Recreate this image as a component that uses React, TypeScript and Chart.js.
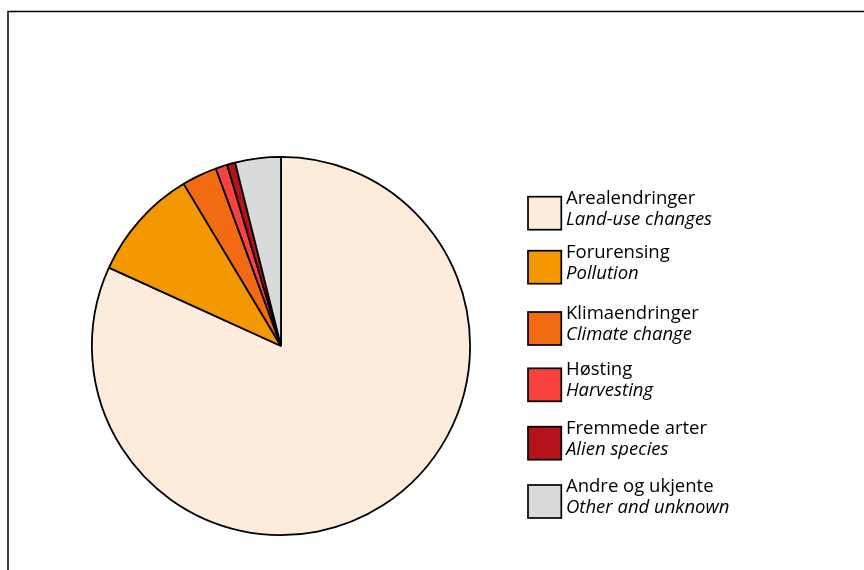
import React, { useEffect, useRef } from "react";
import { Chart, registerables } from "chart.js";

Chart.register(...registerables);

const labelsNo = ["Arealendringer", "Forurensing", "Klimaendringer", "Høsting", "Fremmede arter", "Andre og ukjente"];
const labelsEn = ["Land-use changes", "Pollution", "Climate change", "Harvesting", "Alien species", "Other and unknown"];
const shares = [81.8, 9.6, 3.0, 1.0, 0.7, 3.9];
const colors = ["#FDEBDC", "#F39800", "#F26A12", "#F8423C", "#B5121B", "#D9DADC"];

const FONT = '"Open Sans", "Noto Sans", sans-serif';

const decorPlugin = {
  id: "decor",
  beforeDraw(chart: any) {
    const ctx = chart.ctx;
    ctx.save();
    ctx.fillStyle = "#ffffff";
    ctx.fillRect(0, 0, chart.width, chart.height);
    ctx.strokeStyle = "#000000";
    ctx.lineWidth = 1.5;
    ctx.beginPath();
    ctx.moveTo(8, chart.height);
    ctx.lineTo(8, 11.5);
    ctx.lineTo(chart.width, 11.5);
    ctx.stroke();
    ctx.restore();
  },
  afterDraw(chart: any) {
    const ctx = chart.ctx;
    ctx.save();
    const rowTops = [196.7, 250.7, 312, 368.3, 426.7, 485];
    const x0 = 528;
    const boxW = 33.3;
    const boxH = 33;
    for (let i = 0; i < labelsNo.length; i++) {
      const y = rowTops[i];
      ctx.fillStyle = colors[i];
      ctx.fillRect(x0, y, boxW, boxH);
      ctx.strokeStyle = "#000000";
      ctx.lineWidth = 1.7;
      ctx.strokeRect(x0, y, boxW, boxH);
      ctx.fillStyle = "#000000";
      ctx.textBaseline = "alphabetic";
      ctx.textAlign = "left";
      ctx.font = `18.5px ${FONT}`;
      ctx.fillText(labelsNo[i], 566, y + 6.8);
      ctx.font = `italic 18.5px ${FONT}`;
      ctx.fillText(labelsEn[i], 566, y + 28);
    }
    ctx.restore();
  },
};

export default function App() {
  const ref = useRef<HTMLCanvasElement | null>(null);
  useEffect(() => {
    if (!ref.current) return;
    const chart = new Chart(ref.current, {
      type: "pie",
      data: {
        labels: labelsEn,
        datasets: [
          {
            data: shares,
            backgroundColor: colors,
            borderColor: "#000000",
            borderWidth: 1.8,
          },
        ],
      },
      options: {
        animation: false,
        responsive: false,
        maintainAspectRatio: false,
        layout: { padding: { left: 91, right: 393, top: 156, bottom: 34 } },
        plugins: {
          legend: { display: false },
          tooltip: { enabled: false },
        },
      },
      plugins: [decorPlugin],
    });
    return () => chart.destroy();
  }, []);
  return (
    <div style={{ position: "fixed", left: 0, top: 0, width: 864, height: 570, background: "#fff" }}>
      <canvas ref={ref} width={864} height={570} style={{ width: 864, height: 570, display: "block" }} />
    </div>
  );
}
